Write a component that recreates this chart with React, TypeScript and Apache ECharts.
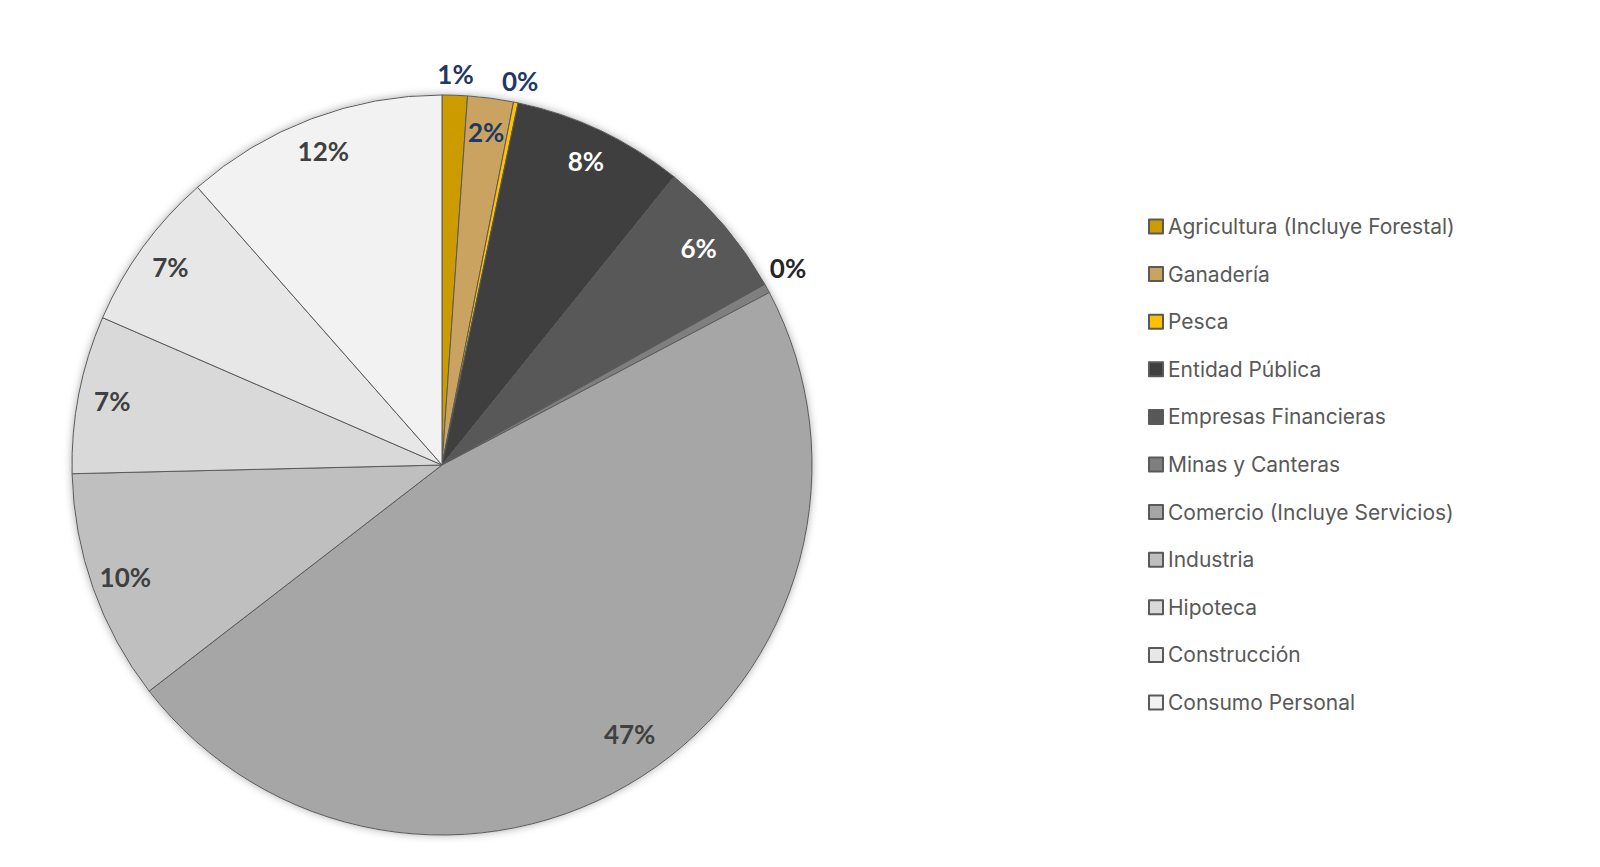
import { useEffect, useRef } from 'react'
import * as echarts from 'echarts'

// sectors, clockwise from 12 o'clock
const categories = [
  'Agricultura (Incluye Forestal)',
  'Ganadería',
  'Pesca',
  'Entidad Pública',
  'Empresas Financieras',
  'Minas y Canteras',
  'Comercio (Incluye Servicios)',
  'Industria',
  'Hipoteca',
  'Construcción',
  'Consumo Personal',
]
const shares = [1.1, 2.0, 0.2, 7.5, 6.1, 0.4, 47.3, 10.1, 6.9, 7.0, 11.5]
const colors = [
  '#CC9B00', '#C9A35F', '#FFC000', '#3F3F3F', '#585858', '#7F7F7F',
  '#A6A6A6', '#BFBFBF', '#D9D9D9', '#E7E7E7', '#F2F2F2',
]
// small slices get their label outside the pie
const outsideLabel = [true, false, true, false, false, true, false, false, false, false, false]
const labelColors = [
  '#1F3864', '#1F3864', '#1F3864', '#FFFFFF', '#FFFFFF', '#262626',
  '#404040', '#404040', '#404040', '#404040', '#404040',
]

const CX = 442
const CY = 465
const R = 370

export default function App() {
  const chartRef = useRef<HTMLDivElement>(null)

  useEffect(() => {
    if (!chartRef.current) return
    const chart = echarts.init(chartRef.current, undefined, { renderer: 'svg' })

    const pct = (v: number) => `${Math.round(v)}%`
    const labelFont = { fontFamily: 'Lato', fontWeight: 'bold' as const, fontSize: 26 }

    const ringData = (outside: boolean) =>
      shares.map((v, i) => ({
        name: categories[i],
        value: v,
        label: {
          show: outsideLabel[i] === outside,
          color: labelColors[i],
          offset: i === 5 ? [2, -10] : i === 6 ? [6, -14] : [0, 0],
        },
      }))

    const option = {
      animation: false,
      legend: {
        orient: 'vertical',
        left: 1143,
        top: 211,
        itemWidth: 14,
        itemHeight: 14,
        itemGap: 26.6,
        icon: 'rect',
        data: categories,
        selectedMode: false,
        textStyle: {
          fontFamily: 'Inter',
          fontSize: 21,
          lineHeight: 21,
          color: '#595959',
        },
      },
      series: [
        {
          // soft shadow behind the pie
          type: 'pie',
          center: [CX, CY],
          radius: [0, R],
          silent: true,
          label: { show: false },
          itemStyle: {
            color: '#ffffff',
            shadowBlur: 8,
            shadowColor: 'rgba(0,0,0,0.35)',
          },
          data: [{ name: 'bg', value: 1 }],
        },
        {
          type: 'pie',
          center: [CX, CY],
          radius: [0, R],
          startAngle: 90,
          clockwise: true,
          label: { show: false },
          labelLine: { show: false },
          itemStyle: { borderColor: '#5a5a5a', borderWidth: 1 },
          data: shares.map((v, i) => ({
            name: categories[i],
            value: v,
            itemStyle: { color: colors[i] },
          })),
        },
        {
          // inner labels
          type: 'pie',
          center: [CX, CY],
          radius: [R * 0.8, R],
          startAngle: 90,
          silent: true,
          itemStyle: { color: 'transparent' },
          label: { position: 'inside', formatter: (p: any) => pct(p.value), ...labelFont },
          labelLine: { show: false },
          data: ringData(false),
        },
        {
          // labels outside the pie for tiny slices
          type: 'pie',
          center: [CX, CY],
          radius: [R, R * 1.1],
          startAngle: 90,
          silent: true,
          itemStyle: { color: 'transparent' },
          label: { position: 'inside', formatter: (p: any) => pct(p.value), ...labelFont },
          labelLine: { show: false },
          data: ringData(true),
        },
      ],
    }

    chart.setOption(option as any)
    return () => {
      chart.dispose()
    }
  }, [])

  return (
    <div
      ref={chartRef}
      style={{ position: 'absolute', left: 0, top: 0, width: 1600, height: 867, background: '#ffffff' }}
    />
  )
}
